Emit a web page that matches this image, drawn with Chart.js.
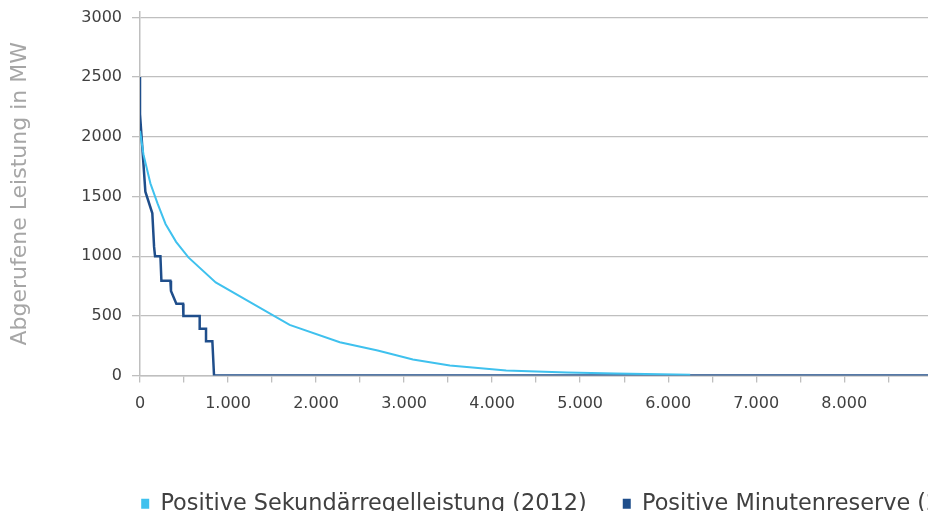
<!DOCTYPE html>
<html lang="de">
<head>
<meta charset="utf-8">
<title>Abgerufene Leistung</title>
<script src="https://cdn.jsdelivr.net/npm/chart.js@4"></script>
<style>
  html, body { margin: 0; padding: 0; background: #fff; overflow: hidden; }
  #wrap { width: 1133px; height: 511px; position: relative; }
</style>
</head>
<body>
<div id="wrap"><canvas id="chart"></canvas></div>
<script>
// sortierte Stunden des Jahres (x) und abgerufene Leistung in MW (y)
const sekLabel = 'Positive Sekundärregelleistung (2012)';
const sekHours = [0, 40, 118, 200, 290, 410, 550, 860, 1250, 1700, 2270, 2700, 3100, 3520, 4160, 4850, 5400, 6250];
const sekMW = [2050, 1850, 1610, 1440, 1270, 1120, 990, 780, 615, 425, 280, 210, 135, 84, 42, 25, 18, 8];

const minLabel = 'Positive Minutenreserve (2012)';
const minHours = [0, 0, 61, 140, 160, 171, 232, 243, 345, 352, 413, 489, 493, 678, 678, 750, 750, 822, 841, 8980];
const minMW = [2500, 2190, 1540, 1359, 1078, 1000, 1000, 795, 795, 708, 602, 602, 500, 500, 392, 392, 288, 288, 0, 0];

const yTitle = 'Abgerufene Leistung in MW';
const yTicks = [0, 500, 1000, 1500, 2000, 2500, 3000];
// Teilstriche alle 500 h, beschriftet alle 1000 h
const xTicks = [0, 500, 1000, 1500, 2000, 2500, 3000, 3500, 4000, 4500, 5000, 5500, 6000, 6500, 7000, 7500, 8000, 8500];

const fontFamily = '"DejaVu Sans", sans-serif';
const gridColor = '#BFBFBF';

// 1000 -> "1.000"
const fmtDe = (v) => String(v).replace(/\B(?=(\d{3})+(?!\d))/g, '.');
const toPoints = (xs, ys) => xs.map((x, i) => ({ x: x, y: ys[i] }));

const ctx = document.getElementById('chart');
const chart = new Chart(ctx, {
	type: 'line',
	data: {
		datasets: [
			{
				label: sekLabel,
				data: toPoints(sekHours, sekMW),
				borderColor: '#3FC1EE',
				backgroundColor: '#3FC1EE',
				borderWidth: 2,
				pointRadius: 0,
				tension: 0,
			},
			{
				label: minLabel,
				data: toPoints(minHours, minMW),
				borderColor: '#1F4E8B',
				backgroundColor: '#1F4E8B',
				borderWidth: 2.5,
				pointRadius: 0,
				tension: 0,
			},
		],
	},
	options: {
		responsive: true,
		maintainAspectRatio: false,
		animation: false,
		events: [],
		layout: { padding: { top: 12, right: 0, bottom: -14, left: 0 } },
		scales: {
			x: {
				type: 'linear',
				min: 0,
				max: 8980,
				afterFit: (scale) => { scale.height = 81; },
				afterBuildTicks: (scale) => { scale.ticks = xTicks.map((v) => ({ value: v })); },
				ticks: {
					autoSkip: false,
					maxRotation: 0,
					padding: 12,
					color: '#404040',
					font: { family: fontFamily, size: 16 },
					callback: (v) => (Math.round(v) % 1000 === 0 ? fmtDe(Math.round(v)) : ''),
				},
				grid: { drawOnChartArea: false, tickLength: 7, color: gridColor, lineWidth: 1.3 },
				border: { color: gridColor, width: 1.5 },
			},
			y: {
				min: 0,
				max: 3045,
				afterFit: (scale) => {
					scale.width = 140;
					scale.paddingTop = 0;
					scale.paddingBottom = 0;
				},
				afterBuildTicks: (scale) => { scale.ticks = yTicks.map((v) => ({ value: v })); },
				ticks: {
					padding: 10,
					color: '#404040',
					font: { family: fontFamily, size: 16 },
					callback: (v) => String(v),
				},
				grid: { color: gridColor, lineWidth: 1.3, tickLength: 8 },
				border: { color: gridColor, width: 1.5 },
				title: {
					display: true,
					text: yTitle,
					color: '#A6A6A6',
					font: { family: fontFamily, size: 22 },
					padding: { top: 7, bottom: 0 },
				},
			},
			// leerer Platz rechts: Diagramm ist im Original dort abgeschnitten
			spacer: {
				type: 'linear',
				position: 'right',
				display: true,
				afterFit: (scale) => { scale.width = 202.5; },
				ticks: { display: false },
				grid: { display: false },
				border: { display: false },
			},
		},
		plugins: {
			tooltip: { enabled: false },
			legend: {
				position: 'bottom',
				labels: {
					boxWidth: 8,
					boxHeight: 10,
					padding: 36,
					color: '#404040',
					font: { family: fontFamily, size: 22.4 },
					generateLabels: (c) =>
						Chart.defaults.plugins.legend.labels.generateLabels(c).map((l) => ({ ...l, lineWidth: 0 })),
				},
			},
		},
	},
});
</script>
</body>
</html>
